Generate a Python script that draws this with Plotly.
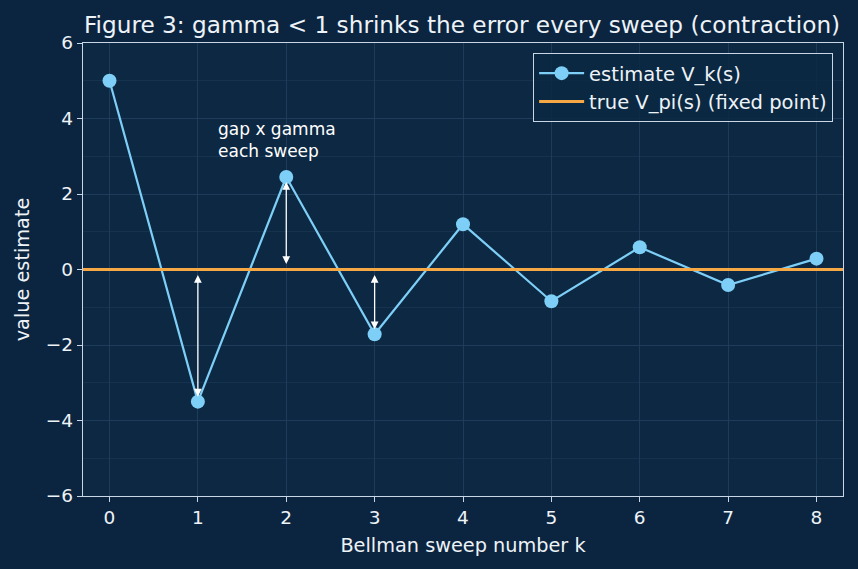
import plotly.graph_objects as go

# data
sweeps = [0, 1, 2, 3, 4, 5, 6, 7, 8]
estimate = [5.0, -3.5, 2.45, -1.715, 1.2, -0.84, 0.588, -0.41, 0.288]
true_value = 0.0
arrow_sweeps = [1, 2, 3]
x_range = [-0.3, 8.3]
y_range = [-6, 6]
y_ticks = [-6, -4, -2, 0, 2, 4, 6]
y_ticklabels = ["\u22126", "\u22124", "\u22122", "0", "2", "4", "6"]

PAPER = "#0b2540"
PLOT = "#0c2842"
TEXT = "#eef3f8"
SPINE = "#c8d6e5"
GRID = "#1e3c5a"
GRID_MINOR = "#15324f"
BLUE = "#7ecff7"
ORANGE = "#f5a843"
FONT = "DejaVu Sans"

fig = go.Figure()
fig.add_trace(go.Scatter(
    x=sweeps, y=estimate, mode="lines+markers", name="estimate V_k(s)",
    line=dict(color=BLUE, width=2.2), marker=dict(color=BLUE, size=14),
))
fig.add_trace(go.Scatter(
    x=x_range, y=[true_value, true_value], mode="lines",
    name="true V_pi(s) (fixed point)", line=dict(color=ORANGE, width=3.2),
))

for k in arrow_sweeps:
    fig.add_annotation(
        x=k, y=estimate[k], ax=k, ay=true_value,
        xref="x", yref="y", axref="x", ayref="y",
        showarrow=True, arrowside="end+start", arrowhead=2, startarrowhead=2,
        arrowsize=1.2, startarrowsize=1.2, arrowwidth=1.3, arrowcolor="white",
        standoff=5, startstandoff=4, text="",
    )

fig.add_annotation(
    x=1.2, y=3.42, xref="x", yref="y", text="gap x gamma<br>each sweep",
    showarrow=False, xanchor="left", yanchor="middle", align="left",
    font=dict(family=FONT, size=17, color="white"),
)

fig.update_layout(
    width=858, height=569,
    margin=dict(l=83, r=15, t=43, b=73),
    paper_bgcolor=PAPER, plot_bgcolor=PLOT,
    font=dict(family=FONT, color=TEXT, size=18),
    title=dict(text="Figure 3: gamma < 1 shrinks the error every sweep (contraction)",
               x=0.5385, xanchor="center", y=0.957, yanchor="middle",
               font=dict(size=23.2, color=TEXT)),
    showlegend=True,
    legend=dict(x=0.987, y=0.978, xanchor="right", yanchor="top",
                bgcolor="rgba(12,40,66,0.85)", bordercolor=SPINE, borderwidth=1,
                font=dict(size=19.5, color=TEXT), tracegroupgap=0,
                itemwidth=45),
    xaxis=dict(range=x_range, tickmode="array", tickvals=sweeps,
               showline=True, linecolor=SPINE, linewidth=1.3, mirror=True,
               ticks="outside", ticklen=5, tickcolor=SPINE, tickwidth=1.2,
               showgrid=True, gridcolor=GRID, gridwidth=0.6, zeroline=False,
               tickfont=dict(size=18.5, color=TEXT),
               title=dict(text="Bellman sweep number k", font=dict(size=19.3, color=TEXT), standoff=11)),
    yaxis=dict(range=y_range, tickmode="array", tickvals=y_ticks, ticktext=y_ticklabels,
               showline=True, linecolor=SPINE, linewidth=1.3, mirror=True,
               ticks="outside", ticklen=5, tickcolor=SPINE, tickwidth=1.2,
               showgrid=True, gridcolor=GRID, gridwidth=0.6, zeroline=False,
               minor=dict(dtick=1, tick0=0, showgrid=True, gridcolor=GRID_MINOR, gridwidth=0.5, ticks=""),
               tickfont=dict(size=18.5, color=TEXT),
               title=dict(text="value estimate", font=dict(size=19.3, color=TEXT), standoff=11)),
)

fig.write_html("out.html")
